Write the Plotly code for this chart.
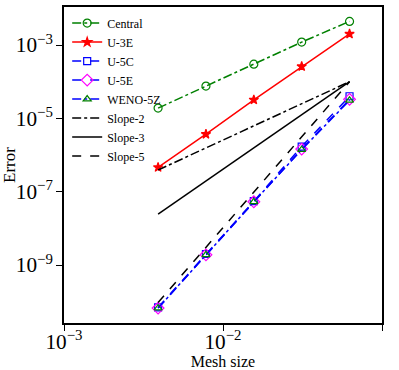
import plotly.graph_objects as go

# mesh sizes and errors
mesh = [1/256, 1/128, 1/64, 1/32, 1/16]
central = [1.9e-5, 7.6e-5, 3.0e-4, 1.2e-3, 4.4e-3]
u3e = [4.6e-7, 3.7e-6, 3.2e-5, 2.6e-4, 2.0e-3]
u5c = [7.0e-11, 2.0e-9, 5.5e-8, 1.7e-6, 4.0e-5]
u5e = [6.7e-11, 1.9e-9, 5.3e-8, 1.45e-6, 3.3e-5]
weno5z = [6.7e-11, 1.9e-9, 5.3e-8, 1.4e-6, 3.1e-5]

# reference slope lines
slope_x = [1/256, 1/16]
slope2 = [3.9e-7, 1e-4]
slope3 = [2.44e-8, 1e-4]
slope5 = [9.5e-11, 1e-4]

FONT = "Liberation Serif"

fig = go.Figure()

def add(x, y, name, color, dash, symbol=None, mcolor=None, msize=8, fill=False):
    mode = "lines+markers" if symbol else "lines"
    marker = None
    if symbol:
        marker = dict(symbol=symbol if fill else symbol + "-open", size=msize,
                      color=mcolor or color, line=dict(width=1.2, color=mcolor or color))
    fig.add_trace(go.Scatter(x=x, y=y, name=name, mode=mode,
                             line=dict(color=color, dash=dash, width=1.5),
                             marker=marker))

add(mesh, central, "Central", "green", "dashdot", "circle", msize=8)
add(mesh, u3e, "U-3E", "red", "solid", "star", msize=7, fill=True)
add(mesh, u5c, "U-5C", "blue", "dash", "square", msize=7)
add(mesh, u5e, "U-5E", "blue", "dash", "diamond", mcolor="magenta", msize=9)
add(mesh, weno5z, "WENO-5Z", "blue", "dashdot", "triangle-up", mcolor="green", msize=7)
add(slope_x, slope2, "Slope-2", "black", "dashdot")
add(slope_x, slope3, "Slope-3", "black", "solid")
add(slope_x, slope5, "Slope-5", "black", "dash")

axis_common = dict(type="log", showgrid=False, zeroline=False, showline=True,
                   linecolor="black", linewidth=1.5, mirror=True,
                   ticks="outside", ticklen=6, tickcolor="black",
                   exponentformat="power", automargin=False,
                   tickfont=dict(family=FONT, size=17, color="black"))

fig.update_xaxes(range=[-3, -1], dtick=1, ticklabelstandoff=-6,
                 title=dict(text="Mesh size", font=dict(family=FONT, size=16, color="black"), standoff=0),
                 **axis_common)
fig.update_yaxes(range=[-10.58, -1.964], tick0=-3, dtick=2,
                 title=dict(text="Error", font=dict(family=FONT, size=17, color="black"), standoff=6),
                 **axis_common)

fig.update_layout(
    width=399, height=370,
    margin=dict(l=64, r=17, t=7, b=47),
    plot_bgcolor="white", paper_bgcolor="white",
    font=dict(family=FONT, color="black"),
    legend=dict(x=0.01, y=0.995, xanchor="left", yanchor="top",
                bgcolor="rgba(255,255,255,0)", borderwidth=0,
                font=dict(family=FONT, size=12), tracegroupgap=0,
                itemwidth=30),
)

# drop the page's default body margin so the figure sits at the top-left corner
fig.write_html("out.html", config={"displayModeBar": False},
               post_script="document.body.style.margin='0';")
